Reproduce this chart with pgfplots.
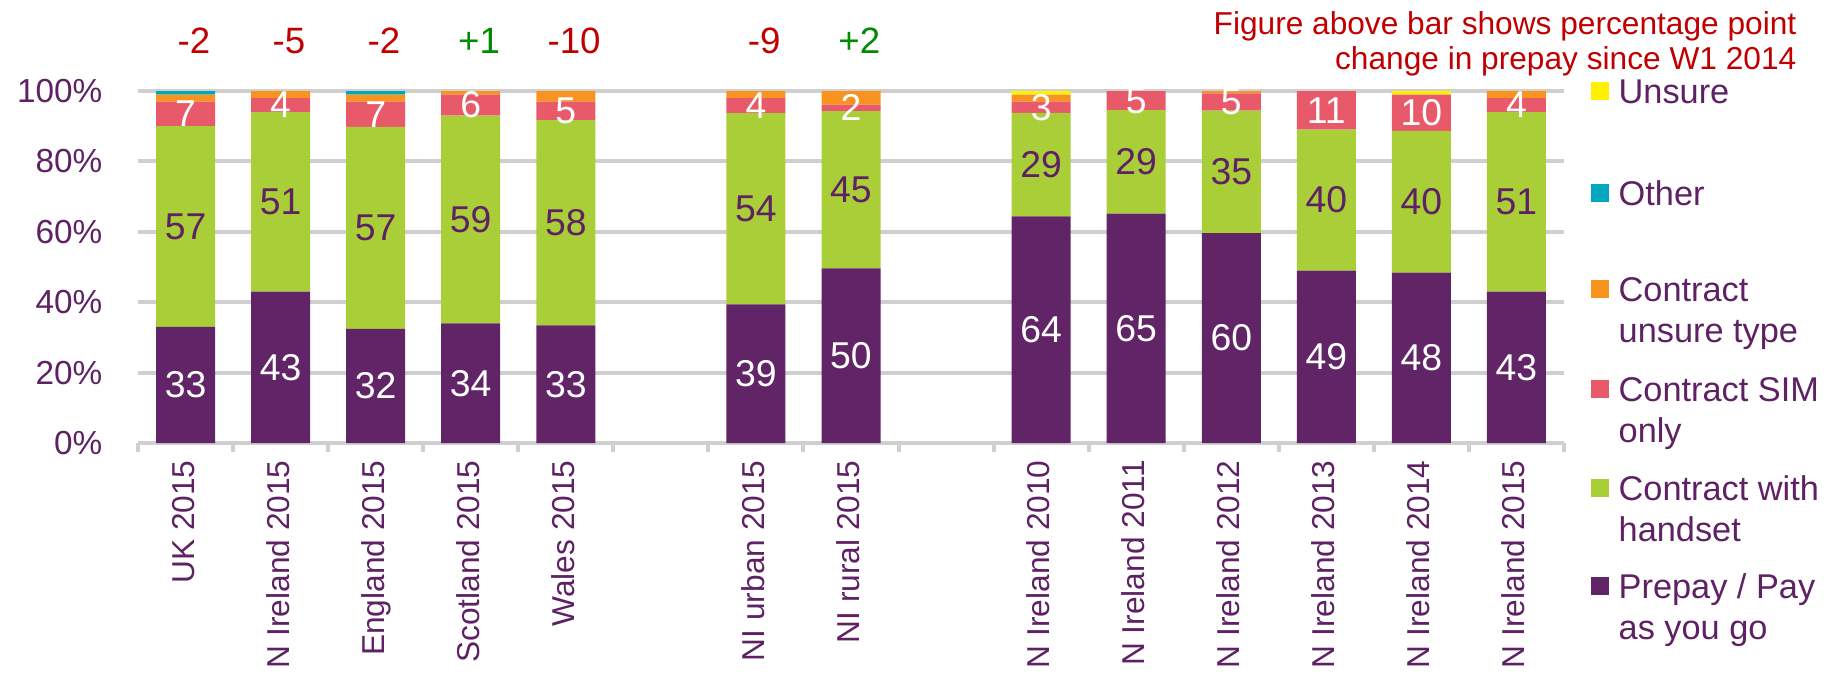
\documentclass[border=0pt]{standalone}
\usepackage{fontspec}
\setmainfont{Liberation Sans}
\usepackage{pgfplots}
\pgfplotsset{compat=1.18}
\usepackage{pgfplotstable}

\definecolor{prepay}{HTML}{612466}
\definecolor{handset}{HTML}{A9CE38}
\definecolor{simonly}{HTML}{E85A6A}
\definecolor{cunsure}{HTML}{F7931E}
\definecolor{other}{HTML}{00A8BF}
\definecolor{unsure}{HTML}{FFF200}
\definecolor{txtpurple}{HTML}{5E2264}
\definecolor{gridgray}{HTML}{CFCFCF}
\definecolor{negred}{HTML}{C00000}
\definecolor{posgreen}{HTML}{008A00}

% shares in %, x = slot (5 and 8 are gaps)
\pgfplotstableread{
x  pre   hand  sim   cut  oth  uns
0  33    57    7     2    1    0
1  43    51    4     2    0    0
2  32.4  57.4  7.2   2    1    0
3  34    59    6     1    0    0
4  33.4  58.3  5.3   3    0    0
6  39.4  54.3  4.3   2    0    0
7  49.6  44.7  1.8   3.9  0    0
9  64.4  29.4  3.2   2    0    1
10 65.2  29.4  5.4   0    0    0
11 59.6  34.8  4.9   0.7  0    0
12 49    40    11    0    0    0
13 48.4  40.3  10.3  0    0    1
14 43    51    4     2    0    0
}\shares

% value labels, centred in their segment
\pgfplotsset{
  lbl/.style={
    nodes near coords={\pgfmathprintnumber[fixed,precision=0,assume math mode=true]{\pgfplotspointmeta}},
    nodes near coords align=center,
    point meta=explicit,
    every node near coord/.append style={anchor=center,
      text=#1, inner sep=0pt, font=\fontsize{11.2}{13}\selectfont},
  },
}
\tikzset{
  chg/.style={anchor=center, yshift=15pt, xshift=2.5pt, font=\fontsize{11}{13}\selectfont},
}

\newcommand\legfont{\fontsize{10.3}{12.3}\selectfont}

\begin{document}
\begin{tikzpicture}
\begin{axis}[
  at={(0,0)}, anchor=south west,
  scale only axis, width=427.8pt, height=105.6pt,
  ybar stacked, bar width=17.7pt,
  xmin=-0.5, xmax=14.5, ymin=0, ymax=100,
  enlargelimits=false,
  axis line style={draw=none},
  xtick=data,
  xticklabels={UK 2015, N Ireland 2015, England 2015, Scotland 2015, Wales 2015,
    NI urban 2015, NI rural 2015, N Ireland 2010, N Ireland 2011, N Ireland 2012,
    N Ireland 2013, N Ireland 2014, N Ireland 2015},
  minor xtick={-0.5,0.5,...,14.5},
  xtick pos=bottom, ytick pos=left,
  tick align=outside,
  major tick length=0pt,
  minor tick length=2.6pt,
  minor tick style={gridgray, line width=1.2pt},
  ytick={0,20,...,100},
  yticklabels={0\%,20\%,40\%,60\%,80\%,100\%},
  ymajorgrids, major grid style={gridgray, line width=1.2pt},
  xticklabel style={yshift=-5pt, rotate=90, anchor=east, inner sep=0pt,
    text height=0.72em, text depth=0.21em,
    font=\fontsize{9.5}{11}\selectfont, text=txtpurple},
  yticklabel style={anchor=east, inner sep=0pt, xshift=-10.5pt,
    font=\fontsize{10}{12}\selectfont, text=txtpurple},
  clip=false,
]
\addplot[fill=prepay, draw=none, lbl=white] table[x=x, y=pre, meta=pre] {\shares};
\addplot[fill=handset, draw=none, lbl=txtpurple] table[x=x, y=hand, meta=hand] {\shares};
\addplot[fill=simonly, draw=none, lbl=white] table[x=x, y=sim, meta=sim] {\shares};
\addplot[fill=cunsure, draw=none] table[x=x, y=cut] {\shares};
\addplot[fill=other, draw=none] table[x=x, y=oth] {\shares};
\addplot[fill=unsure, draw=none] table[x=x, y=uns] {\shares};

\node[chg, text=negred]   at (axis cs:0,100) {-2};
\node[chg, text=negred]   at (axis cs:1,100) {-5};
\node[chg, text=negred]   at (axis cs:2,100) {-2};
\node[chg, text=posgreen] at (axis cs:3,100) {+1};
\node[chg, text=negred]   at (axis cs:4,100) {-10};
\node[chg, text=negred]   at (axis cs:6,100) {-9};
\node[chg, text=posgreen] at (axis cs:7,100) {+2};
\end{axis}

% note, top right
\node[anchor=base east, inner sep=0pt, text=negred, font=\fontsize{9.5}{11}\selectfont]
  at (497.7pt,122.5pt) {Figure above bar shows percentage point};
\node[anchor=base east, inner sep=0pt, text=negred, font=\fontsize{9.5}{11}\selectfont]
  at (497.7pt,112pt) {change in prepay since W1 2014};

% legend
\foreach \c/\col/\ta/\tb in {105.6/unsure/Unsure/, 75/other/Other/,
    46.2/cunsure/Contract/unsure type, 16.2/simonly/Contract SIM/only,
    -13.5/handset/Contract with/handset, -42.9/prepay/{Prepay / Pay}/as you go}{
  \fill[\col] (435.8pt,\c pt-2.7pt) rectangle (441.2pt,\c pt+2.7pt);
  \node[anchor=base west, inner sep=0pt, text=txtpurple, font=\legfont]
    at (444pt,\c pt-3.6pt) {\ta};
  \node[anchor=base west, inner sep=0pt, text=txtpurple, font=\legfont]
    at (444pt,\c pt-15.9pt) {\tb};
}

\pgfresetboundingbox
\useasboundingbox (-41.4pt,-69pt) rectangle (507.6pt,132.9pt);
\end{tikzpicture}
\end{document}
